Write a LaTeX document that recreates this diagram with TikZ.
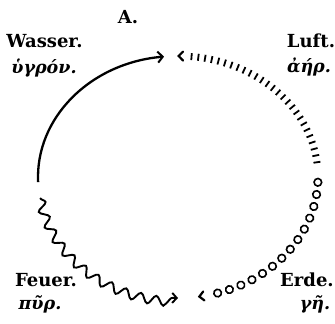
\documentclass[tikz,border=0pt]{standalone}
\usepackage{fontspec}
\setmainfont{DejaVu Serif}
\usetikzlibrary{decorations.pathmorphing,decorations.markings,arrows.meta}
\begin{document}
\begin{tikzpicture}[x=1pt,y=1pt,
  lab/.style={font=\bfseries\fontsize{18}{20}\selectfont, anchor=base, inner sep=0pt},
  grk/.style={font=\bfseries\itshape\fontsize{17.5}{20}\selectfont, anchor=base, inner sep=0pt},
  ell/.style={x radius=140pt, y radius=121pt},
  chev/.style={line width=2.2pt, line cap=round, line join=miter}]
\useasboundingbox (0,0) rectangle (335,324);
% labels
\node[lab] (a) at (128,300) {A.};
\node[lab] (wasser) at (44.5,276) {Wasser.};
\node[grk] (hygron) at (44,250) {ὑγρόν.};
\node[lab] (luft) at (311,276) {Luft.};
\node[grk] (aer) at (309,251) {ἀήρ.};
\node[lab] (feuer) at (46,37) {Feuer.};
\node[grk] (pyr) at (40,14) {πῦρ.};
\node[lab] (erde) at (307,37) {Erde.};
\node[grk] (ge) at (315,14) {γῆ.};
% start points on the ellipse (centre 178,147)
\coordinate (ws) at ({178+140*cos(182.4)},{147+121*sin(182.4)});
\coordinate (ls) at ({178+140*cos(7)},{147+121*sin(7)});
\coordinate (es) at ({178+140*cos(-2.5)},{147+121*sin(-2.5)});
\coordinate (fs) at ({178+140*cos(190)},{147+121*sin(190)});
% water: solid arc
\draw[line width=2.3pt, -{Straight Barb[length=5pt,width=11pt,line width=2pt]}]
  (ws) arc[start angle=182.4, end angle=95.7, ell];
% air: hatched arc
\path[postaction={decorate}, decoration={markings,
  mark=between positions 0 and -6pt step 6.8pt with {\draw[line width=1.8pt] (0,-3.5pt) -- (0,3.5pt);},
  mark=at position -0.5pt with {\draw[chev] (-3.5pt,-4.5pt) -- (1pt,0pt) -- (-3.5pt,4.5pt);}}]
  (ls) arc[start angle=7, end angle=89.5, ell];
% earth: circles
\path[postaction={decorate}, decoration={markings,
  mark=between positions 0 and -14pt step 12.3pt with {\draw[line width=1.6pt] (0,0) circle[radius=3.8pt];},
  mark=at position -0.5pt with {\draw[chev] (-3.5pt,-4.5pt) -- (1pt,0pt) -- (-3.5pt,4.5pt);}}]
  (es) arc[start angle=-2.5, end angle=-81, ell];
% fire: wavy
\draw[line width=1.9pt, decorate, decoration={snake, amplitude=4.5pt, segment length=16pt, post length=5pt},
  -{Straight Barb[length=4.5pt,width=10pt,line width=1.9pt]}]
  (fs) arc[start angle=190, end angle=270, ell];
\end{tikzpicture}
\end{document}
